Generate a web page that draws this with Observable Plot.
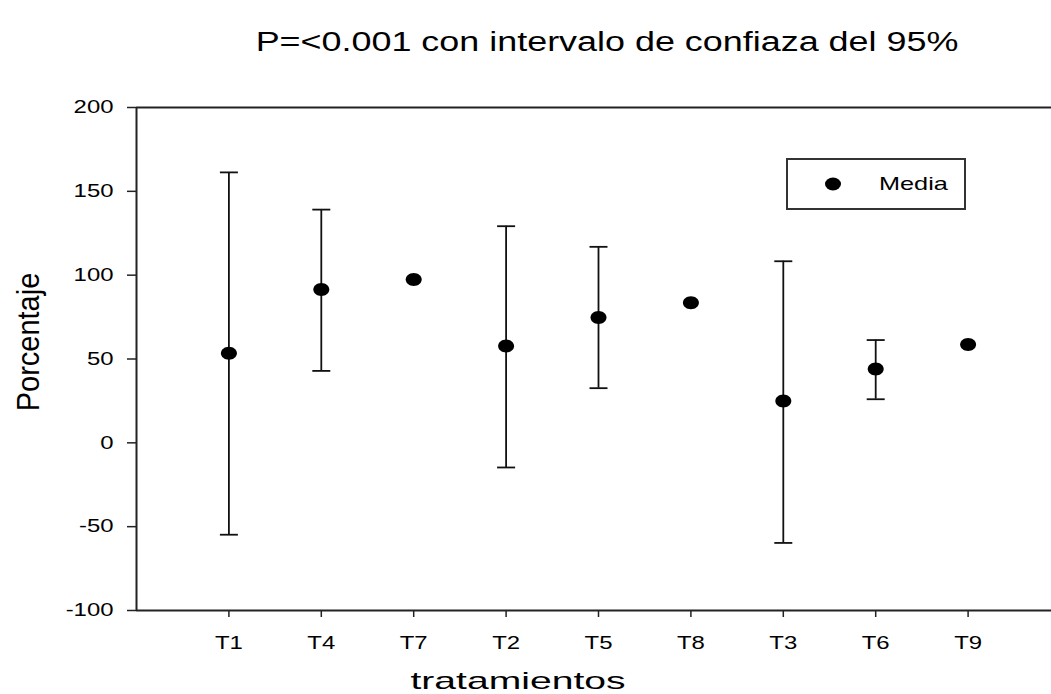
<!DOCTYPE html>
<html><head><meta charset="utf-8">
<script src="https://cdn.jsdelivr.net/npm/d3@7"></script>
<script src="https://cdn.jsdelivr.net/npm/@observablehq/plot@0.6"></script>
<style>
body{margin:0;background:#fff;font-family:"Liberation Sans",Arial,sans-serif;}
#wrap{position:relative;width:1051px;height:694px;overflow:hidden;}
#title{position:absolute;top:0;left:0;width:1051px;height:70px;}
#title span{position:absolute;left:607px;top:42px;transform:translate(-50%,-50%) scaleX(1.33);font-size:27px;white-space:nowrap;color:#000;}
#chart{position:absolute;top:70px;left:0;}
#legend{position:absolute;left:786px;top:158px;width:176px;height:48px;border:2px solid #333;background:#fff;}
#legend svg{position:absolute;left:0;top:0;}
#legend span{position:absolute;left:91px;top:24px;transform:translateY(-50%) scaleX(1.33);transform-origin:left center;font-size:19px;white-space:nowrap;}
</style></head><body>
<div id="wrap">
<div id="title"><span>P=&lt;0.001 con intervalo de confiaza del 95%</span></div>
<div id="chart"></div>
<div id="legend"><svg width="176" height="48"><ellipse cx="45" cy="24" rx="8" ry="6.5" fill="#000"/></svg><span id="legname"></span></div>
</div>
<script>
const categories = ["T1","T4","T7","T2","T5","T8","T3","T6","T9"];
const means = [53.4, 91.5, 97.4, 57.7, 74.8, 83.5, 25.0, 44.0, 58.7];
const lower = [-54.8, 42.9, null, -14.7, 32.6, null, -59.7, 26.0, null];
const upper = [161.3, 139.1, null, 129.2, 116.9, null, 108.3, 61.3, null];
const yTicks = [-100, -50, 0, 50, 100, 150, 200];
const seriesName = "Media";
const xLabel = "tratamientos";
const yLabel = "Porcentaje";

document.getElementById("legname").textContent = seriesName;

const rows = categories.map((c, i) => ({pos: i + 1, cat: c, mean: means[i], lo: lower[i], hi: upper[i]}));
const errRows = rows.filter(d => d.lo != null && d.hi != null);

const ellipse = {draw(ctx) {
  const rx = 8, ry = 6.5, k = 0.5523;
  ctx.moveTo(rx, 0);
  ctx.bezierCurveTo(rx, ry * k, rx * k, ry, 0, ry);
  ctx.bezierCurveTo(-rx * k, ry, -rx, ry * k, -rx, 0);
  ctx.bezierCurveTo(-rx, -ry * k, -rx * k, -ry, 0, -ry);
  ctx.bezierCurveTo(rx * k, -ry, rx, -ry * k, rx, 0);
  ctx.closePath();
}};
const cap = {draw(ctx) { ctx.moveTo(-9, 0); ctx.lineTo(9, 0); }};

const plot = Plot.plot({
  width: 1051, height: 624,
  marginTop: 37, marginBottom: 84, marginLeft: 136, marginRight: 0,
  style: {fontFamily: "'Liberation Sans', Arial, sans-serif", fontSize: "18px", color: "#000", background: "transparent"},
  x: {domain: [0, 10], range: [136, 1060]},
  y: {domain: [-100, 200]},
  marks: [
    Plot.axisY({ticks: yTicks, tickSize: 9, tickPadding: 14, tickFormat: d => String(d), label: null, fontSize: 18, stroke: "#222", strokeWidth: 1.5}),
    Plot.axisX({ticks: d3.range(1, 10), tickSize: 7, tickPadding: 19, tickFormat: i => categories[i - 1], label: null, fontSize: 18, stroke: "#222", strokeWidth: 1.5}),
    Plot.ruleY([-100], {stroke: "#222", strokeWidth: 2}),
    Plot.ruleY([200], {stroke: "#222", strokeWidth: 2}),
    Plot.ruleX([0], {stroke: "#222", strokeWidth: 2}),
    Plot.ruleX(errRows, {x: "pos", y1: "lo", y2: "hi", stroke: "#111", strokeWidth: 1.8}),
    Plot.dot(errRows, {x: "pos", y: "lo", symbol: cap, stroke: "#111", strokeWidth: 1.8, fill: "none"}),
    Plot.dot(errRows, {x: "pos", y: "hi", symbol: cap, stroke: "#111", strokeWidth: 1.8, fill: "none"}),
    Plot.dot(rows, {x: "pos", y: "mean", symbol: ellipse, fill: "#000", stroke: "none"}),
    Plot.text([yLabel], {frameAnchor: "left", textAnchor: "middle", dx: -107, dy: -17, rotate: -90, fontSize: 29}),
    Plot.text([xLabel], {frameAnchor: "bottom", textAnchor: "middle", lineAnchor: "middle", dy: 71, dx: -76, fontSize: 23})
  ]
});
document.getElementById("chart").appendChild(plot);

// horizontal stretch of glyphs, matching the reference's wide lettering
const S = 1.33;
plot.querySelectorAll("text").forEach(t => {
  let tr = t.getAttribute("transform");
  const rot = tr && tr.includes("rotate");
  if (!tr) {
    const x = t.getAttribute("x") || 0, y = t.getAttribute("y") || 0;
    t.removeAttribute("x"); t.removeAttribute("y");
    tr = `translate(${x},${y})`;
  }
  const isX = t.textContent === xLabel;
  t.setAttribute("transform", tr + (rot ? ` scale(1,1.07)` : ` scale(${isX ? 1.7 : S},1)`));
});
</script>
</body></html>
